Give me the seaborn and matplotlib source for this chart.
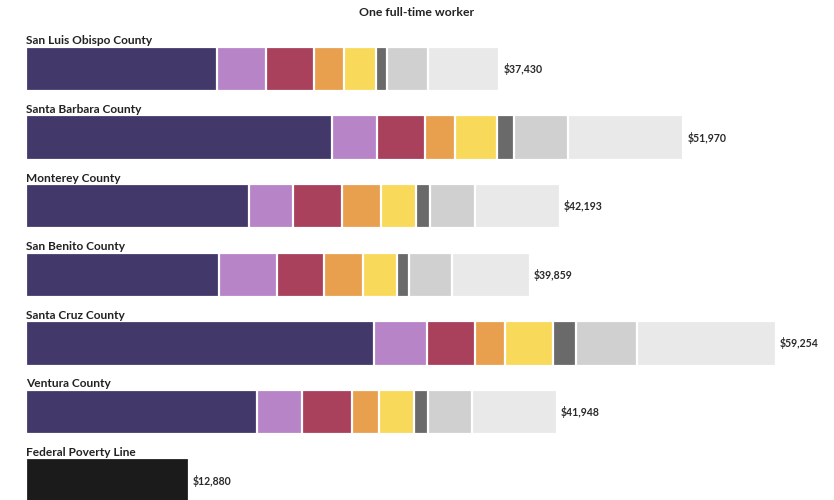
import matplotlib
matplotlib.use("Agg")
import matplotlib.pyplot as plt
import seaborn as sns
import pandas as pd
import numpy as np

sns.set_theme(style="white")
plt.rcParams['font.family'] = ['Lato', 'DejaVu Sans']

counties = ["San Luis Obispo County", "Santa Barbara County", "Monterey County",
            "San Benito County", "Santa Cruz County", "Ventura County", "Federal Poverty Line"]

categories = ["Housing", "Food", "Health care", "Transportation", "Other necessities",
              "Broadband", "Taxes", "Savings"]

housing        = [15106, 24198, 17590, 15288, 27484, 18224, 12880]
food           = [3882, 3529, 3547, 4515, 4217, 3590, 0]
health_care    = [3755, 3781, 3841, 3780, 3819, 3926, 0]
transportation = [2392, 2394, 3065, 3087, 2328, 2183, 0]
other_needs    = [2539, 3361, 2812, 2646, 3776, 2730, 0]
broadband      = [881, 1281, 1071, 987, 1827, 1112, 0]
taxes          = [3189, 4264, 3547, 3360, 4845, 3528, 0]
savings        = [5686, 9162, 6720, 6196, 10958, 6655, 0]

totals = [37430, 51970, 42193, 39859, 59254, 41948, 12880]
total_labels = ["$37,430", "$51,970", "$42,193", "$39,859", "$59,254", "$41,948", "$12,880"]

colors = ["#43386a", "#b784c8", "#a9405c", "#e8a04f", "#f8d95a", "#6a6a6a", "#d0d0d0", "#e9e9e9"]
fpl_color = "#1b1b1b"

series = [housing, food, health_care, transportation, other_needs, broadband, taxes, savings]
cum = np.cumsum(np.array(series), axis=0)

fig = plt.figure(figsize=(8.34, 5.0), dpi=100)
ax = fig.add_axes([0, 0, 1, 1])

# draw cumulative layers from largest to smallest
for k in range(len(categories) - 1, -1, -1):
    df = pd.DataFrame({"county": counties, "value": cum[k]})
    pal = [colors[k]] * (len(counties) - 1) + [fpl_color]
    sns.barplot(data=df, y="county", x="value", hue="county", palette=pal,
                orient="h", width=0.645, edgecolor="white", linewidth=1.6,
                saturation=1, legend=False, ax=ax, order=counties, hue_order=counties)

px_per_dollar = 0.01265
ax.set_xlim(-26 / px_per_dollar, (834 - 26) / px_per_dollar)
row = 68.6
ax.set_ylim((500 - 69) / row, -69 / row)
ax.axis("off")

for i, (name, tot, lab) in enumerate(zip(counties, totals, total_labels)):
    ax.text(0, i - 0.36, name, fontsize=8.6, fontweight="bold", color="#222222",
            va="baseline", ha="left")
    ax.text(tot + 300, i, lab, fontsize=7.6, fontweight="bold", color="#2a2a2a",
            va="center", ha="left")

fig.text(0.5, 1 - 13 / 500, "One full-time worker", fontsize=8.8, fontweight="bold",
         color="#222222", ha="center", va="center")

fig.savefig("out.png", dpi=100)
